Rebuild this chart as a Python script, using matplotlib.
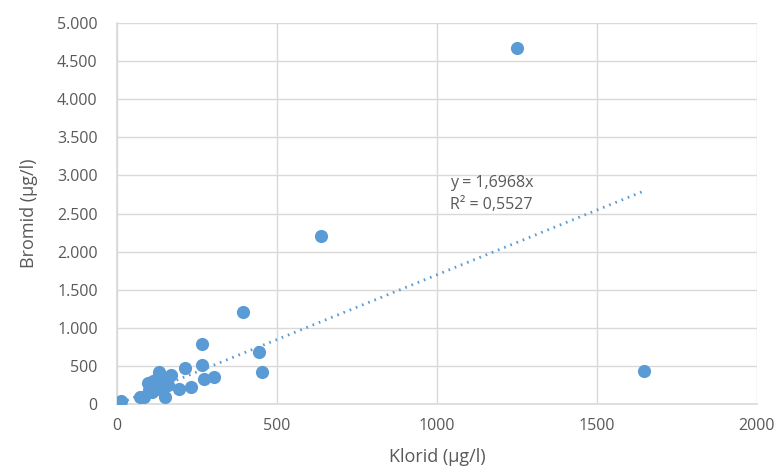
"""
Bromid vs. klorid scatter with a trendline through the origin.
"""

import numpy as np
from matplotlib import pyplot
from matplotlib.ticker import FuncFormatter

OUTPUT_FILE = 'out.png'
PLOT_DOTS_PER_INCH = 100
FIGSIZE_WIDTH_HEIGHT_INCHES = (7.81, 4.75)

klorid = [1250, 1647, 637, 394, 444, 453, 266, 266, 304, 270,
          230, 212, 194, 150, 12, 132, 168, 98, 113, 72,
          85, 108, 134, 155, 120, 145, 125, 160, 100, 140]
bromid = [4670, 440, 2210, 1210, 690, 420, 790, 510, 360, 330,
          230, 480, 195, 90, 45, 420, 380, 280, 300, 95,
          100, 160, 230, 300, 200, 260, 330, 250, 180, 190]
slope = 1.6968
r_squared = 0.5527

TEXT_COLOR = '#595959'
GRID_COLOR = '#d9d9d9'
DOT_COLOR = '#5b9bd5'

pyplot.rcParams['font.family'] = ['Open Sans', 'DejaVu Sans']


def thousands(value, _pos):
    return f'{int(value):,}'.replace(',', '.')


def main() -> None:
    figure = pyplot.figure(figsize=FIGSIZE_WIDTH_HEIGHT_INCHES, dpi=PLOT_DOTS_PER_INCH)
    ax = figure.add_axes([0.150, 0.149, 0.819, 0.803])

    ax.scatter(klorid, bromid, s=90, c=DOT_COLOR, zorder=3, linewidths=0)

    trend_x = np.array([min(klorid), max(klorid)])
    ax.plot(trend_x, slope * trend_x, color=DOT_COLOR, lw=2,
            linestyle=(0, (0.6, 1.8)), zorder=2)

    ax.text(1040, 2900, f'y = {slope:.4f}x'.replace('.', ','), color=TEXT_COLOR,
            fontsize=11.5, va='center')
    ax.text(1040, 2610, f'R² = {r_squared:.4f}'.replace('.', ','), color=TEXT_COLOR,
            fontsize=11.5, va='center')

    ax.set_xlim(0, 2000)
    ax.set_ylim(0, 5000)
    ax.set_xticks(range(0, 2001, 500))
    ax.set_yticks(range(0, 5001, 500))
    ax.yaxis.set_major_formatter(FuncFormatter(thousands))

    ax.grid(True, color=GRID_COLOR, lw=1)
    ax.set_axisbelow(True)
    for side in ('top', 'right'):
        ax.spines[side].set_visible(False)
    for side in ('left', 'bottom'):
        ax.spines[side].set_color(GRID_COLOR)
        ax.spines[side].set_linewidth(1.2)
    ax.tick_params(axis='y', length=0, colors=TEXT_COLOR, labelsize=11.5, pad=14)
    ax.tick_params(axis='x', length=0, colors=TEXT_COLOR, labelsize=11.5, pad=10)

    ax.set_xlabel('Klorid (µg/l)', color=TEXT_COLOR, fontsize=13, labelpad=10)
    ax.set_ylabel('Bromid (µg/l)', color=TEXT_COLOR, fontsize=13, labelpad=14)

    pyplot.savefig(OUTPUT_FILE, dpi=PLOT_DOTS_PER_INCH)


if __name__ == '__main__':
    main()
